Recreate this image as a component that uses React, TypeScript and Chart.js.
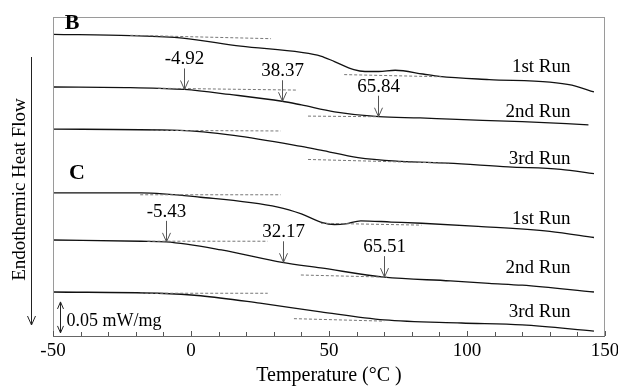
import React, { useEffect, useRef } from 'react';
import { Chart, registerables } from 'chart.js';

Chart.register(...registerables);

// ---- Curves (temperature °C, heat flow in mW/mg, curves offset vertically) ----
const tempB1 = [-50, -22, -3, 18, 40, 47, 52, 59, 63, 68, 74, 84, 90, 108, 130, 138, 146];
const flowB1 = [0.487, 0.485, 0.481, 0.468, 0.458, 0.452, 0.443, 0.43, 0.427, 0.427, 0.429, 0.423, 0.419, 0.414, 0.41, 0.405, 0.394];

const tempB2 = [-50, -22, -2.4, 14, 33, 40, 52, 68, 83, 94, 120, 144];
const flowB2 = [0.402, 0.401, 0.398, 0.39, 0.379, 0.373, 0.362, 0.354, 0.352, 0.35, 0.346, 0.341];

const tempB3 = [-50, -4, 15.5, 40, 47, 60.5, 76, 93, 115, 134, 146];
const flowB3 = [0.334, 0.332, 0.324, 0.306, 0.3, 0.288, 0.282, 0.279, 0.273, 0.269, 0.262];

const tempC1 = [-50, -18, 3.5, 31.5, 40, 47, 52, 56, 61.5, 72.5, 83.5, 104, 130, 146];
const flowC1 = [0.231, 0.231, 0.224, 0.208, 0.197, 0.184, 0.18, 0.181, 0.186, 0.184, 0.182, 0.177, 0.169, 0.159];

const tempC2 = [-50, -18, -9, 11, 33, 47, 70, 94, 108, 120, 146];
const flowC2 = [0.155, 0.153, 0.152, 0.139, 0.119, 0.11, 0.095, 0.089, 0.085, 0.082, 0.071];

const tempC3 = [-50, -12, 3.5, 25, 47, 70, 98, 120, 146];
const flowC3 = [0.071, 0.069, 0.065, 0.053, 0.039, 0.026, 0.021, 0.018, 0.008];

// ---- Dashed baseline tangents: [startT, endT], [startY, endY] ----
const dashTemps = [
  [-22, 29], [55.5, 90.7],
  [-12, 38.7], [42.4, 67.8],
  [-14.7, 32.5], [42.4, 93.3],
  [-18.4, 32.5], [47.1, 83.5],
  [-15.8, 27.8], [39.8, 71],
  [-18.4, 27.8], [37.3, 70],
];
const dashFlows = [
  [0.4855, 0.48], [0.422, 0.4185],
  [0.4, 0.397], [0.355, 0.354],
  [0.332, 0.331], [0.285, 0.279],
  [0.228, 0.228], [0.182, 0.179],
  [0.153, 0.153], [0.0985, 0.095],
  [0.069, 0.069], [0.028, 0.024],
];

// ---- Arrow annotations (transition temperatures) ----
const arrowLabels = ['-4.92', '38.37', '65.84', '-5.43', '32.17', '65.51'];
const arrowTemps = [-2.4, 33, 67.8, -8.9, 33.3, 70];
const arrowFlows = [0.398, 0.379, 0.354, 0.152, 0.119, 0.095];

// ---- Run labels ----
const runLabels = ['1st Run', '2nd Run', '3rd Run', '1st Run', '2nd Run', '3rd Run'];
const runLabelFlows = [0.435, 0.361, 0.285, 0.189, 0.11, 0.039];
const runLabelTemp = 137.5;

// ---- Panel letters ----
const panelLabels = ['B', 'C'];
const panelTemps = [-43.1, -41.3];
const panelFlows = [0.505, 0.263];

// ---- Scale bar ----
const scaleBarTemp = -47.5;
const scaleBarFlows = [0.005, 0.055];
const scaleBarText = '0.05 mW/mg';

// ---- Axes ----
const xMin = -50;
const xMax = 150;
const xLabelStep = 50;
const xMinorStep = 10;
const yMin = 0;
const yMax = 0.515;
const xTitle = 'Temperature (°C )';
const yTitle = 'Endothermic Heat Flow';

const SERIF = "'Liberation Serif', 'Times New Roman', serif";

const pts = (xs: number[], ys: number[]) => xs.map((x, i) => ({ x, y: ys[i] }));

const overlayPlugin = {
  id: 'overlay',
  afterDatasetsDraw(chart: any) {
    const { ctx, chartArea } = chart;
    const xs = chart.scales.x;
    const ys = chart.scales.y;
    const { left, right, top, bottom } = chartArea;
    ctx.save();

    // frame
    ctx.lineWidth = 1;
    ctx.strokeStyle = '#9a9a9a';
    ctx.strokeRect(left + 0.5, top + 0.5, right - left - 1, bottom - top);
    ctx.strokeStyle = '#666';
    ctx.beginPath();
    ctx.moveTo(left, bottom + 0.5);
    ctx.lineTo(right, bottom + 0.5);
    ctx.stroke();

    // inward ticks
    ctx.strokeStyle = '#555';
    for (let t = xMin; t <= xMax; t += xMinorStep) {
      const px = Math.round(xs.getPixelForValue(t)) + 0.5;
      const len = t % xLabelStep === 0 ? 5 : 4;
      ctx.beginPath();
      ctx.moveTo(px, bottom);
      ctx.lineTo(px, bottom - len);
      ctx.stroke();
    }

    // arrows with labels
    ctx.fillStyle = '#000';
    ctx.font = `19px ${SERIF}`;
    ctx.textAlign = 'center';
    ctx.textBaseline = 'middle';
    arrowLabels.forEach((lab, i) => {
      const px = Math.round(xs.getPixelForValue(arrowTemps[i])) + 0.5;
      const tip = ys.getPixelForValue(arrowFlows[i]);
      ctx.strokeStyle = '#555';
      ctx.lineWidth = 1;
      ctx.beginPath();
      ctx.moveTo(px, tip - 21);
      ctx.lineTo(px, tip);
      ctx.moveTo(px - 4, tip - 9);
      ctx.lineTo(px, tip);
      ctx.lineTo(px + 4, tip - 9);
      ctx.stroke();
      ctx.fillText(lab, px, tip - 30);
    });

    // run labels
    ctx.textAlign = 'right';
    runLabels.forEach((lab, i) => {
      ctx.fillText(lab, xs.getPixelForValue(runLabelTemp), ys.getPixelForValue(runLabelFlows[i]));
    });

    // panel letters
    ctx.textAlign = 'center';
    ctx.font = `bold 22px ${SERIF}`;
    panelLabels.forEach((lab, i) => {
      ctx.fillText(lab, xs.getPixelForValue(panelTemps[i]), ys.getPixelForValue(panelFlows[i]));
    });

    // scale bar
    const sx = Math.round(xs.getPixelForValue(scaleBarTemp)) + 0.5;
    const sy0 = ys.getPixelForValue(scaleBarFlows[0]);
    const sy1 = ys.getPixelForValue(scaleBarFlows[1]);
    ctx.strokeStyle = '#222';
    ctx.lineWidth = 1;
    ctx.beginPath();
    ctx.moveTo(sx, sy0);
    ctx.lineTo(sx, sy1);
    ctx.moveTo(sx - 3, sy1 + 7);
    ctx.lineTo(sx, sy1);
    ctx.lineTo(sx + 3, sy1 + 7);
    ctx.moveTo(sx - 3, sy0 - 7);
    ctx.lineTo(sx, sy0);
    ctx.lineTo(sx + 3, sy0 - 7);
    ctx.stroke();
    ctx.font = `18px ${SERIF}`;
    ctx.textAlign = 'left';
    ctx.fillText(scaleBarText, sx + 6, (sy0 + sy1) / 2 + 4);

    // y title with downward arrow
    ctx.save();
    ctx.translate(20, (top + bottom) / 2 + 13);
    ctx.rotate(-Math.PI / 2);
    ctx.textAlign = 'center';
    ctx.font = `19px ${SERIF}`;
    ctx.fillText(yTitle, 0, 0);
    ctx.restore();
    ctx.strokeStyle = '#222';
    ctx.beginPath();
    ctx.moveTo(31.5, top + 40);
    ctx.lineTo(31.5, bottom - 11);
    ctx.moveTo(27.5, bottom - 20);
    ctx.lineTo(31.5, bottom - 11);
    ctx.lineTo(35.5, bottom - 20);
    ctx.stroke();

    ctx.restore();
  },
};

export default function App() {
  const ref = useRef<HTMLCanvasElement | null>(null);

  useEffect(() => {
    document.body.style.margin = '0';
    const canvas = ref.current;
    if (!canvas) return;

    const curves = [
      pts(tempB1, flowB1), pts(tempB2, flowB2), pts(tempB3, flowB3),
      pts(tempC1, flowC1), pts(tempC2, flowC2), pts(tempC3, flowC3),
    ];
    const curveSets = curves.map((data) => ({
      data,
      borderColor: '#111',
      borderWidth: 1.3,
      pointRadius: 0,
      cubicInterpolationMode: 'monotone' as const,
      fill: false,
    }));
    const dashSets = dashTemps.map((t, i) => ({
      data: pts(t, dashFlows[i]),
      borderColor: '#777',
      borderWidth: 1,
      borderDash: [3, 2],
      pointRadius: 0,
      fill: false,
    }));

    const chart = new Chart(canvas, {
      type: 'line',
      data: { datasets: [...dashSets, ...curveSets] as any },
      options: {
        animation: false,
        responsive: false,
        maintainAspectRatio: false,
        layout: { padding: { left: 53, right: 13, top: 17, bottom: 0 } },
        plugins: { legend: { display: false }, tooltip: { enabled: false } },
        scales: {
          x: {
            type: 'linear',
            min: xMin,
            max: xMax,
            grid: { display: false, drawTicks: false },
            border: { display: false },
            ticks: {
              stepSize: xMinorStep,
              autoSkip: false,
              maxRotation: 0,
              padding: 4,
              color: '#000',
              font: { family: SERIF, size: 19 },
              callback: (v: any) => (Number(v) % xLabelStep === 0 ? String(v) : ''),
            },
            title: {
              display: true,
              text: xTitle,
              color: '#000',
              font: { family: SERIF, size: 20 },
              padding: { top: 0, bottom: 2 },
            },
            afterFit: (s: any) => {
              s.height = 54;
              s.paddingLeft = 0;
              s.paddingRight = 0;
            },
          },
          y: { type: 'linear', display: false, min: yMin, max: yMax },
        },
      },
      plugins: [overlayPlugin],
    });
    return () => chart.destroy();
  }, []);

  return <canvas ref={ref} width={618} height={390} style={{ display: 'block', width: 618, height: 390 }} />;
}
